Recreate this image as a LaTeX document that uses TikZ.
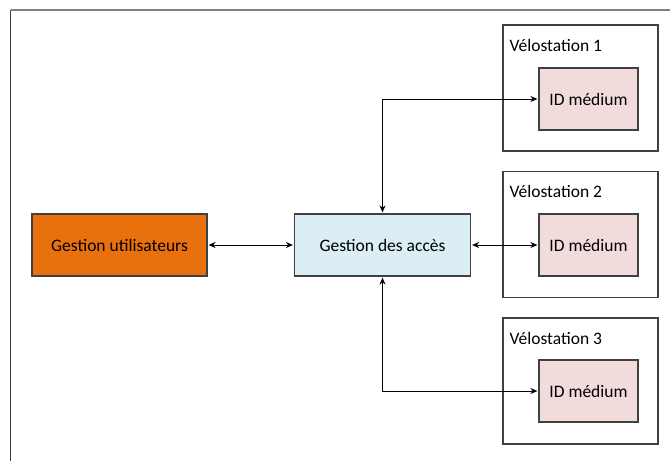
\documentclass[tikz,border=0pt]{standalone}
\usepackage{fontspec}
\setmainfont{Carlito}
\usepackage{tikz}
\usetikzlibrary{arrows.meta,positioning}

\definecolor{orangebox}{RGB}{232,113,14}
\definecolor{bluebox}{RGB}{219,238,243}
\definecolor{pinkbox}{RGB}{242,220,219}
\definecolor{boxline}{RGB}{64,64,64}

\tikzset{
  bloc/.style={draw=boxline,line width=1.2pt,minimum width=176pt,minimum height=62pt,inner sep=0pt},
  station/.style={draw=boxline,line width=1.2pt,minimum width=155pt,minimum height=126pt,inner sep=0pt},
  medium/.style={draw=boxline,line width=1.2pt,fill=pinkbox,minimum width=99pt,minimum height=62pt,inner sep=0pt},
  lien/.style={{Stealth[length=7pt,width=6pt]}-{Stealth[length=7pt,width=6pt]},line width=0.9pt,shorten <=1pt,shorten >=1pt}
}

\begin{document}
\begin{tikzpicture}[x=1pt,y=-1pt,font=\fontsize{17.5}{21}\selectfont]
\useasboundingbox (0,0) rectangle (670,461);
\draw[gray,line width=1.5pt] (10.5,10) -- (670,10);
\draw[boxline,line width=1.2pt] (10.5,10) -- (10.5,461);
\node[bloc,fill=orangebox,minimum width=175pt] (users) at (119.5,245) {Gestion utilisateurs};
\node[bloc,fill=bluebox] (acces) at (382.5,245) {Gestion des accès};
\node[station] (s1) at (580.5,88) {};
\node[station] (s2) at (580.5,234.5) {};
\node[station] (s3) at (580.5,381) {};
\node[anchor=west,inner sep=0pt] (t1) at ([xshift=7pt,yshift=-21pt]s1.north west) {Vélostation 1};
\node[anchor=west,inner sep=0pt] (t2) at ([xshift=7pt,yshift=-21pt]s2.north west) {Vélostation 2};
\node[anchor=west,inner sep=0pt] (t3) at ([xshift=7pt,yshift=-21pt]s3.north west) {Vélostation 3};
\node[medium] (m1) at (588.5,99) {ID médium};
\node[medium] (m2) at (588.5,245) {ID médium};
\node[medium] (m3) at (588.5,391) {ID médium};
\draw[lien] (users) -- (acces);
\draw[lien] (acces) -- (m2);
\draw[lien] (acces.north) |- (m1.west);
\draw[lien] (acces.south) |- (m3.west);
\end{tikzpicture}
\end{document}
